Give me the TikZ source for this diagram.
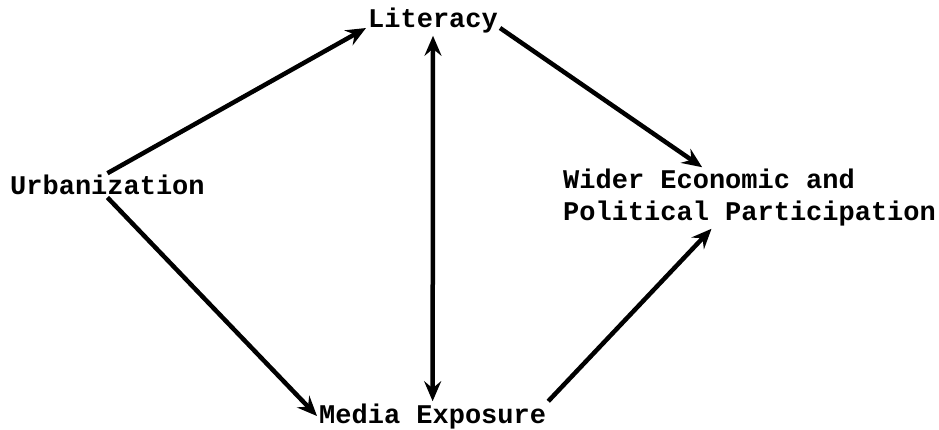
\documentclass[tikz,border=0pt]{standalone}
\usepackage{fontspec}
\setmonofont{Liberation Mono}
\usepackage{tikz}
\usetikzlibrary{arrows.meta}

\begin{document}
\begin{tikzpicture}[x=1pt, y=-1pt,
        lbl/.style={font=\ttfamily\bfseries\fontsize{27}{32}\selectfont, inner sep=2pt},
        arr/.style={-{Stealth[length=20pt, width=17pt, inset=7pt]}, line width=4.5pt},
        darr/.style={{Stealth[length=20pt, width=17pt, inset=7pt]}-{Stealth[length=20pt, width=17pt, inset=7pt]}, line width=4.5pt}]

        \useasboundingbox (0,0) rectangle (939,430);

        %% ── Variables ─────────────────────────────────────────────────────
        \node[lbl, anchor=base west] (urb) at (8,195) {Urbanization};
        \node[lbl, anchor=base west] (lit) at (366,28) {Literacy};
        \node[lbl, anchor=base west] (med) at (317,423) {Media Exposure};
        \node[lbl, anchor=west, align=left] (wid) at (561,198)
            {Wider Economic and\\Political Participation};

        %% ── Liens ─────────────────────────────────────────────────────────
        \draw[arr] (urb.north) -- (lit.base west);
        \draw[arr] (urb.south) -- (med.west);
        \draw[arr] (lit.base east) -- (wid.147);
        \draw[arr] (med.north east) -- (wid.219);
        \draw[darr] (lit.south) -- (med.north);

\end{tikzpicture}
\end{document}
